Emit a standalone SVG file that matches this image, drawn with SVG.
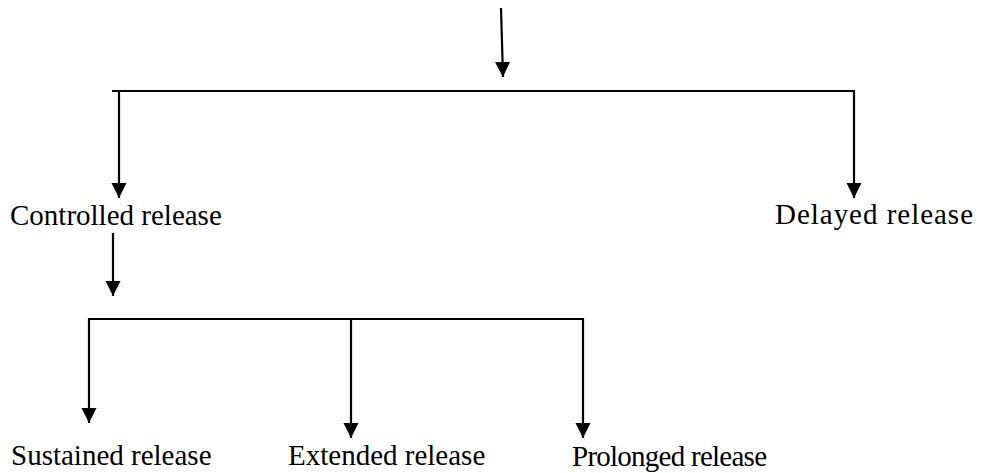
<svg xmlns="http://www.w3.org/2000/svg" width="981" height="473" viewBox="0 0 981 473">
<style>
.ln{stroke:#000;stroke-width:2;fill:none}
.ar{stroke:#000;stroke-width:2.2;fill:none;marker-end:url(#ah)}
.t{font-family:"Liberation Serif","Times New Roman",serif;font-size:29px;fill:#000}
</style>
<defs>
<marker id="ah" markerUnits="userSpaceOnUse" markerWidth="16" markerHeight="16" refX="15" refY="7.5" orient="auto" viewBox="0 0 16 16">
<path d="M0,0 L15,7.5 L0,15 z" fill="#000"/>
</marker>
</defs>
<rect width="981" height="473" fill="#fff"/>
<g id="connectors">
<line class="ar" x1="501" y1="8" x2="503" y2="77"/>
<line class="ln" x1="112" y1="91" x2="855" y2="91"/>
<line class="ar" x1="119" y1="91" x2="119" y2="198"/>
<line class="ar" x1="854" y1="91" x2="854" y2="198"/>
<line class="ar" x1="113" y1="233" x2="113" y2="296"/>
<line class="ln" x1="88" y1="319" x2="584" y2="319"/>
<line class="ar" x1="89" y1="319" x2="89" y2="423"/>
<line class="ar" x1="351" y1="319" x2="351" y2="438"/>
<line class="ar" x1="583" y1="319" x2="583" y2="438"/>
</g>
<g id="controlled"><text class="t" x="10" y="225">Controlled release</text></g>
<g id="delayed"><text class="t" x="775" y="224" textLength="198" lengthAdjust="spacing">Delayed release</text></g>
<g id="sustained"><text class="t" x="11" y="465">Sustained release</text></g>
<g id="extended"><text class="t" x="288" y="465">Extended release</text></g>
<g id="prolonged"><text class="t" x="572" y="466" textLength="195" lengthAdjust="spacing">Prolonged release</text></g>
</svg>
